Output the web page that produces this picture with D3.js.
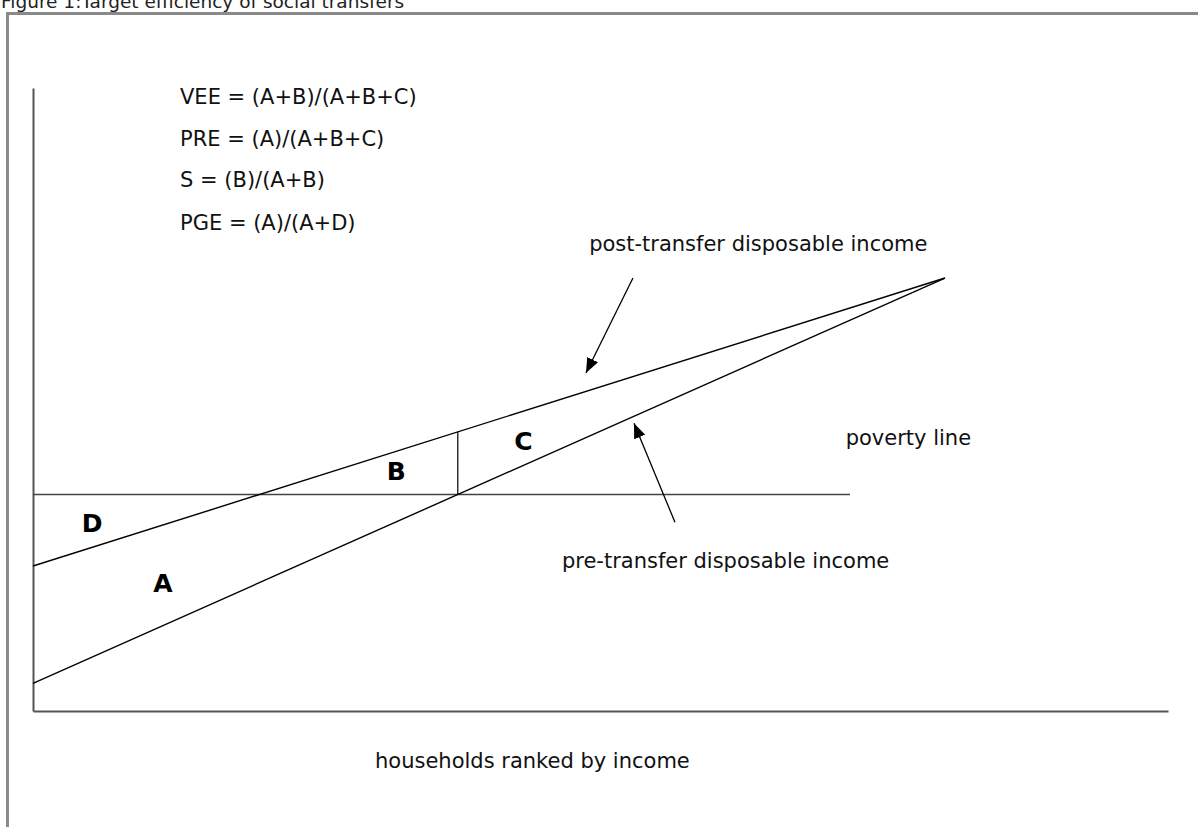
<!DOCTYPE html>
<html>
<head>
<meta charset="utf-8">
<script src="https://cdn.jsdelivr.net/npm/d3@7"></script>
<style>
  body { margin: 0; background: #fff; }
  svg { display: block; font-family: "DejaVu Sans", Verdana, sans-serif; }
</style>
</head>
<body>
<svg id="chart"></svg>
<script>
// households ranked by income (x) vs income (y), arbitrary units 0-100
const rankEnds = [0, 80.35];
const preTransfer = [4.45, 69.5];
const postTransfer = [23.27, 69.5];
const povertyLevel = 34.75;
const povertyEnd = 71.98;

const areaLabels = ['D', 'A', 'B', 'C'];
const areaPos = [[5.2, 30.1], [11.45, 20.5], [32.0, 38.5], [43.2, 43.3]];

const formulas = ['VEE = (A+B)/(A+B+C)', 'PRE = (A)/(A+B+C)', 'S = (B)/(A+B)', 'PGE = (A)/(A+D)'];

const lineLabels = ['post-transfer disposable income', 'poverty line', 'pre-transfer disposable income'];
const lineLabelPos = [[49.0, 73.8], [71.6, 42.7], [46.6, 23.0]];

// arrows: [tail, tip]
const arrows = [
    [[52.86, 69.5], [48.72, 54.25]],
    [[56.56, 30.3], [52.95, 46.2]]
];

const xTitle = 'households ranked by income';
const figTitle = 'Figure 1:Target efficiency of social transfers';

const width = 1198;
const height = 827;

const svg = d3.select('#chart')
    .attr('width', width)
    .attr('height', height);

const x = d3.scaleLinear().domain([0, 100]).range([33, 1168]);
const y = d3.scaleLinear().domain([0, 100]).range([711, 88]);

svg.append('defs').append('marker')
    .attr('id', 'head')
    .attr('markerUnits', 'userSpaceOnUse')
    .attr('viewBox', '0 -6 15 12')
    .attr('refX', 15)
    .attr('refY', 0)
    .attr('markerWidth', 15)
    .attr('markerHeight', 12)
    .attr('orient', 'auto')
    .append('path')
    .attr('d', 'M0,-6L15,0L0,6Z')
    .attr('fill', '#000');

// outer frame (cut by the page edge)
svg.append('rect')
    .attr('x', 7.5).attr('y', 13.5)
    .attr('width', 1300).attr('height', 1000)
    .attr('fill', 'none')
    .attr('stroke', '#8a8a8a')
    .attr('stroke-width', 3);

svg.append('text')
    .attr('x', 1).attr('y', 7.5)
    .attr('font-size', 18.5)
    .attr('fill', '#222')
    .text(figTitle);

// axes: plain lines, no ticks
const xAxis = d3.axisBottom(x).tickValues([]).tickSizeOuter(0);
const yAxis = d3.axisLeft(y).tickValues([]).tickSizeOuter(0);

svg.append('g')
    .attr('class', 'x-axis')
    .attr('transform', `translate(0,${y(0)})`)
    .call(xAxis);

svg.append('g')
    .attr('class', 'y-axis')
    .attr('transform', `translate(${x(0)},0)`)
    .call(yAxis);

svg.selectAll('.x-axis .domain, .y-axis .domain')
    .attr('stroke', '#555')
    .attr('stroke-width', 2);

const line = d3.line()
    .x(d => x(d[0]))
    .y(d => y(d[1]));

// poverty line
svg.append('path')
    .datum([[0, povertyLevel], [povertyEnd, povertyLevel]])
    .attr('d', line)
    .attr('stroke', '#444')
    .attr('stroke-width', 1.5)
    .attr('fill', 'none');

const pre = rankEnds.map((r, i) => [r, preTransfer[i]]);
const post = rankEnds.map((r, i) => [r, postTransfer[i]]);

[pre, post].forEach(pts => {
    svg.append('path')
        .datum(pts)
        .attr('d', line)
        .attr('stroke', '#000')
        .attr('stroke-width', 1.4)
        .attr('fill', 'none');
});

// vertical divider where pre-transfer income crosses the poverty line
const slope = (pts) => (pts[1][1] - pts[0][1]) / (pts[1][0] - pts[0][0]);
const cross = (povertyLevel - pre[0][1]) / slope(pre);
const postAtCross = post[0][1] + slope(post) * cross;

svg.append('path')
    .datum([[cross, povertyLevel], [cross, postAtCross]])
    .attr('d', line)
    .attr('stroke', '#000')
    .attr('stroke-width', 1.2)
    .attr('fill', 'none');

svg.selectAll('.area-label')
    .data(areaLabels)
    .join('text')
    .attr('class', 'area-label')
    .attr('x', (d, i) => x(areaPos[i][0]))
    .attr('y', (d, i) => y(areaPos[i][1]))
    .attr('text-anchor', 'middle')
    .attr('dominant-baseline', 'central')
    .attr('font-size', 25)
    .attr('font-weight', 'bold')
    .attr('fill', '#000')
    .text(d => d);

svg.selectAll('.formula')
    .data(formulas)
    .join('text')
    .attr('class', 'formula')
    .attr('x', 180)
    .attr('y', (d, i) => [104, 146, 186.5, 230][i])
    .attr('font-size', 21)
    .attr('fill', '#111')
    .text(d => d);

svg.selectAll('.line-label')
    .data(lineLabels)
    .join('text')
    .attr('class', 'line-label')
    .attr('x', (d, i) => x(lineLabelPos[i][0]))
    .attr('y', (d, i) => y(lineLabelPos[i][1]))
    .attr('font-size', 21)
    .attr('fill', '#111')
    .text(d => d);

svg.selectAll('.arrow')
    .data(arrows)
    .join('path')
    .attr('class', 'arrow')
    .attr('d', line)
    .attr('stroke', '#000')
    .attr('stroke-width', 1.3)
    .attr('fill', 'none')
    .attr('marker-end', 'url(#head)');

svg.append('text')
    .attr('x', 375)
    .attr('y', y(0) + 57)
    .attr('font-size', 21)
    .attr('fill', '#111')
    .text(xTitle);
</script>
</body>
</html>
